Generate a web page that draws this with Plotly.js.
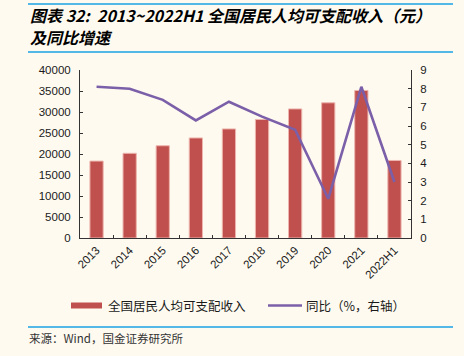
<!DOCTYPE html>
<html><head><meta charset="utf-8">
<script src="https://cdn.plot.ly/plotly-3.0.1.min.js"></script>
<style>html,body{margin:0;padding:0;background:#FEFAF0;}#chart{width:464px;height:356px;}</style>
</head><body><div id="chart"></div>
<script>
const categories = ['2013','2014','2015','2016','2017','2018','2019','2020','2021','2022H1'];
const income = [18311, 20167, 21966, 23821, 25974, 28228, 30733, 32189, 35128, 18463];
const yoy = [8.1, 8.0, 7.4, 6.3, 7.3, 6.5, 5.8, 2.1, 8.1, 3.0];
const leftTicks = [0,5000,10000,15000,20000,25000,30000,35000,40000];
const leftTickText = ['0','5000','10000','15000','20000','25000','30000','35000','40000'];
const rightTicks = [0,1,2,3,4,5,6,7,8,9];

const W=464,H=356, L=80, R=411, T=70, B=238;
const px = x => (x-L)/(R-L);
const py = y => (B-y)/(B-T);
const txt = '#1a1a1a';
const font = 'Liberation Sans, Arial, Noto Sans CJK SC, sans-serif';
const cjk = 'Noto Sans CJK SC, Liberation Sans, sans-serif';
const blue = '#1AA0E6';

const traces = [
  {type:'bar', x:categories, y:income, name:'全国居民人均可支配收入',
   marker:{color:'#C0504D', line:{color:'#EDB5AE', width:1}}, yaxis:'y'},
  {type:'scatter', mode:'lines', x:categories, y:yoy, name:'同比（%，右轴）',
   line:{color:'#7B5FA8', width:2.6}, yaxis:'y2'}
];

const layout = {
  width:W, height:H, paper_bgcolor:'#FEFAF0', plot_bgcolor:'#FEFAF0',
  margin:{l:L, r:W-R, t:T, b:H-B, pad:0},
  showlegend:false, bargap:0.6,
  font:{family:font, size:11.5, color:txt},
  xaxis:{type:'category', tickangle:-45, ticks:'inside', tickson:'boundaries', ticklen:3,
    tickcolor:'#333', showline:true, linecolor:'#333', linewidth:1, showgrid:false,
    tickfont:{family:font, size:11.5, color:txt}},
  yaxis:{range:[0,40000], tickvals:leftTicks, ticktext:leftTickText, ticks:'inside', ticklen:3, tickcolor:'#333',
    showline:true, linecolor:'#333', linewidth:1, showgrid:false, zeroline:false,
    tickfont:{family:font, size:11.5, color:txt}, ticklabelstandoff:6},
  yaxis2:{range:[0,9], tickvals:rightTicks, overlaying:'y', side:'right', ticks:'inside', ticklen:3,
    tickcolor:'#333', showline:true, linecolor:'#333', linewidth:1, showgrid:false, zeroline:false,
    tickfont:{family:font, size:11.5, color:txt}, ticklabelstandoff:6},
  shapes:[
    {type:'line', xref:'paper', yref:'paper', x0:px(28), x1:px(453), y0:py(4), y1:py(4), line:{color:blue, width:1.5}},
    {type:'line', xref:'paper', yref:'paper', x0:px(28), x1:px(453), y0:py(52), y1:py(52), line:{color:blue, width:1.5}},
    {type:'line', xref:'paper', yref:'paper', x0:px(28), x1:px(453), y0:py(327), y1:py(327), line:{color:blue, width:1.5}},
    {type:'rect', xref:'paper', yref:'paper', x0:px(71), x1:px(102), y0:py(302.5), y1:py(308.5), fillcolor:'#C0504D', line:{width:0}},
    {type:'line', xref:'paper', yref:'paper', x0:px(268), x1:px(302), y0:py(305.5), y1:py(305.5), line:{color:'#7B5FA8', width:2.5}}
  ],
  annotations:[
    {xref:'paper', yref:'paper', x:px(28), y:py(15), xanchor:'left', yanchor:'middle', showarrow:false,
     text:'图表 32:  2013~2022H1 全国居民人均可支配收入（元）',
     font:{family:cjk, size:16, color:'#000', weight:'bold', style:'italic'}},
    {xref:'paper', yref:'paper', x:px(28), y:py(37), xanchor:'left', yanchor:'middle', showarrow:false,
     text:'及同比增速', font:{family:cjk, size:16, color:'#000', weight:'bold', style:'italic'}},
    {xref:'paper', yref:'paper', x:px(106), y:py(305.5), xanchor:'left', yanchor:'middle', showarrow:false,
     text:'全国居民人均可支配收入', font:{family:cjk, size:12.5, color:txt}},
    {xref:'paper', yref:'paper', x:px(304), y:py(305.5), xanchor:'left', yanchor:'middle', showarrow:false,
     text:'同比（%，右轴）', font:{family:cjk, size:12.5, color:txt}},
    {xref:'paper', yref:'paper', x:px(27), y:py(338), xanchor:'left', yanchor:'middle', showarrow:false,
     text:'来源：Wind，国金证券研究所', font:{family:cjk, size:11.5, color:'#333'}}
  ]
};
Plotly.newPlot('chart', traces, layout, {staticPlot:true, displayModeBar:false});
</script></body></html>
